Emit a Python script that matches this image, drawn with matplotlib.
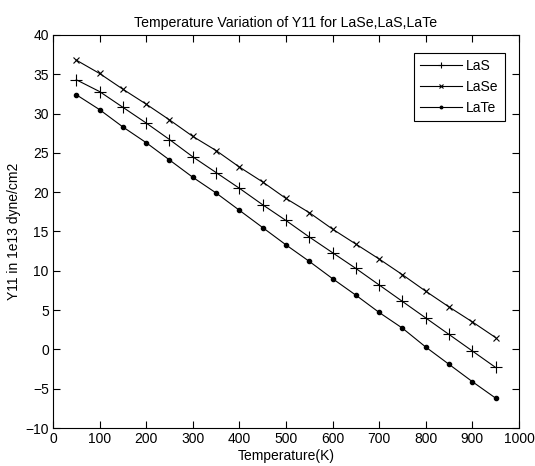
import matplotlib
matplotlib.use('Agg')
import matplotlib.pyplot as plt
import numpy as np

plt.rcParams['font.family'] = ['Liberation Sans', 'DejaVu Sans']

temps = [50, 100, 150, 200, 250, 300, 350, 400, 450, 500,
         550, 600, 650, 700, 750, 800, 850, 900, 950]
las = [34.3, 32.8, 30.8, 28.8, 26.7, 24.5, 22.5, 20.5, 18.4, 16.4,
       14.3, 12.3, 10.3, 8.2, 6.1, 4.0, 1.9, -0.2, -2.3]
lase = [36.8, 35.1, 33.1, 31.2, 29.2, 27.1, 25.3, 23.2, 21.3, 19.2,
        17.4, 15.3, 13.4, 11.5, 9.5, 7.4, 5.4, 3.5, 1.5]
late = [32.4, 30.5, 28.3, 26.3, 24.1, 21.9, 19.9, 17.7, 15.5, 13.3,
        11.2, 9.0, 6.9, 4.7, 2.7, 0.3, -1.9, -4.1, -6.2]

fig = plt.figure(figsize=(5.35, 4.66), dpi=100)
ax = fig.add_axes([0.099, 0.0815, 0.871, 0.8435])

ax.plot(temps, las, color='k', lw=0.8, marker='+', ms=8, mew=0.8, label='LaS')
ax.plot(temps, lase, color='k', lw=0.8, marker='x', ms=5, mew=0.8, label='LaSe')
ax.plot(temps, late, color='k', lw=0.8, marker='o', ms=3, label='LaTe')

ax.set_xlim(0, 1000)
ax.set_ylim(-10, 40)
ax.set_xticks(np.arange(0, 1001, 100))
ax.set_yticks(np.arange(-10, 41, 5))
ax.tick_params(direction='in', top=True, right=True, labelsize=10, length=5, pad=3)
for s in ax.spines.values():
    s.set_linewidth(0.8)

ax.set_xlabel('Temperature(K)', fontsize=10, labelpad=2)
ax.set_ylabel('Y11 in 1e13 dyne/cm2', fontsize=10, labelpad=3)
ax.set_title('Temperature Variation of Y11 for LaSe,LaS,LaTe', fontsize=10.2, pad=6)

leg = ax.legend(loc='upper right', bbox_to_anchor=(0.970, 0.954), borderaxespad=0,
                fontsize=10, fancybox=False, edgecolor='k', framealpha=1,
                handlelength=3.0, labelspacing=0.5, markerscale=0.6,
                borderpad=0.45, handletextpad=0.3)
leg.get_frame().set_linewidth(0.8)

fig.savefig('out.png', dpi=100)
